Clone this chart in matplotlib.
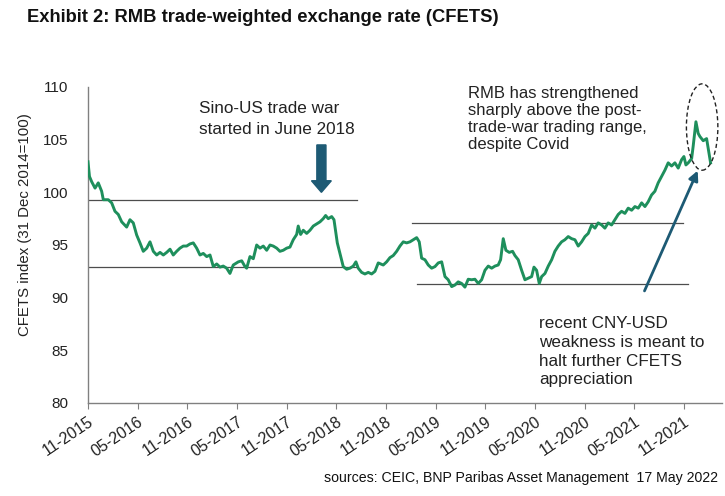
import matplotlib
matplotlib.use("Agg")
import matplotlib.pyplot as plt
from matplotlib.patches import Ellipse, FancyArrow

plt.rcParams["font.family"] = ["Liberation Sans", "DejaVu Sans"]

# months since Nov 2015
months = [0, 0.18, 0.45, 0.85, 1.24, 1.65, 1.85, 2.45, 2.86, 3.26, 3.66, 4.07, 4.67, 5.07, 5.47, 5.88,
          6.28, 6.68, 7.09, 7.49, 7.89, 8.30, 8.70, 9.10, 9.51, 9.91, 10.30, 10.71, 11.11, 11.51, 11.92,
          12.32, 12.72, 13.13, 13.53, 13.93, 14.34, 14.74, 15.14, 15.55, 15.95, 16.34, 16.75, 17.15,
          17.55, 18.16, 18.57, 18.97, 19.17, 19.57, 19.97, 20.38, 20.78, 21.18, 21.59, 21.99, 22.38,
          22.80, 23.19, 23.59, 24.00, 24.40, 24.80, 25.21, 25.40, 25.69, 26.01, 26.42, 26.82, 27.22,
          27.63, 28.03, 28.42, 28.71, 29.03, 29.44, 29.72, 29.96, 30.12, 30.44, 30.84, 31.25, 31.65,
          32.05, 32.37, 32.65, 33.06, 33.46, 33.86, 34.27, 34.67, 35.07, 35.67, 36.08, 36.48, 36.88,
          37.29, 37.69, 38.09, 38.50, 38.90, 39.30, 39.71, 40.02, 40.31, 40.71, 41.11, 41.52, 41.92,
          42.32, 42.73, 43.13, 43.52, 43.94, 44.33, 44.73, 45.14, 45.54, 45.94, 46.35, 46.75, 47.15,
          47.56, 47.96, 48.36, 48.77, 49.17, 49.56, 49.85, 50.17, 50.49, 50.89, 51.30, 51.58, 51.98,
          52.39, 52.79, 53.19, 53.60, 53.88, 54.20, 54.52, 54.81, 55.21, 55.61, 56.02, 56.41, 56.81,
          57.22, 57.62, 58.02, 58.43, 58.83, 59.23, 59.64, 60.04, 60.44, 60.85, 61.25, 61.64, 62.06,
          62.45, 62.85, 63.26, 63.66, 64.06, 64.47, 64.87, 65.27, 65.68, 66.08, 66.48, 66.89, 67.29,
          67.68, 68.09, 68.49, 68.89, 69.30, 69.70, 70.10, 70.51, 70.91, 71.31, 71.72, 72.00, 72.24,
          72.52, 72.93, 73.12, 73.45, 73.72, 73.93, 74.33, 74.74, 74.93, 75.22]

cfets = [102.9, 101.5, 101.0, 100.4, 100.9, 100.1, 99.3, 99.3, 99.0, 98.2, 97.9, 97.2, 96.7, 97.4, 97.1, 95.95,
         95.2, 94.4, 94.7, 95.3, 94.4, 94.05, 94.3, 94.05, 94.3, 94.6, 94.05, 94.4, 94.7, 94.9, 94.9,
         95.1, 95.2, 94.7, 94.05, 94.2, 93.9, 94.05, 92.95, 93.2, 92.9, 93.0, 92.8, 92.3,
         93.1, 93.4, 93.5, 92.95, 92.8, 93.9, 93.7, 95.0, 94.7, 94.9, 94.5, 95.0, 94.9,
         94.7, 94.4, 94.5, 94.7, 94.8, 95.5, 96.0, 96.8, 96.0, 96.4, 96.1, 96.4, 96.8,
         97.0, 97.2, 97.5, 97.8, 97.5, 97.7, 97.4, 96.1, 95.2, 94.2, 92.95, 92.7, 92.8,
         93.0, 93.4, 92.8, 92.4, 92.25, 92.4, 92.25, 92.5, 93.3, 93.1, 93.4, 93.8, 94.0,
         94.4, 94.9, 95.3, 95.2, 95.3, 95.5, 95.7, 95.3, 93.75, 93.6, 93.1, 92.8, 92.95,
         93.3, 93.4, 92.0, 91.7, 91.05, 91.2, 91.5, 91.35, 91.0, 91.75, 91.7, 91.75, 91.35,
         91.7, 92.6, 93.0, 92.8, 93.0, 93.1, 93.6, 95.6, 94.5, 94.3, 94.4, 94.0, 93.6,
         92.6, 91.7, 91.85, 92.0, 92.9, 92.6, 91.35, 92.0, 92.3, 93.0, 93.6, 94.4, 94.9,
         95.3, 95.5, 95.8, 95.6, 95.5, 94.9, 95.3, 95.8, 96.1, 96.9, 96.6, 97.1, 96.9,
         96.6, 97.1, 96.9, 97.4, 97.9, 98.2, 98.0, 98.5, 98.3, 98.65, 98.5, 99.0, 98.65,
         99.1, 99.75, 100.1, 100.9, 101.5, 102.1, 102.8, 102.5, 102.8, 102.3, 103.1, 103.4, 102.6,
         102.8, 103.2, 104.4, 106.7, 105.6, 105.3, 104.9, 105.1, 104.2, 102.8]

tick_pos = [0, 6, 12, 18, 24, 30, 36, 42, 48, 54, 60, 66, 72]
tick_labels = ["11-2015", "05-2016", "11-2016", "05-2017", "11-2017", "05-2018", "11-2018",
               "05-2019", "11-2019", "05-2020", "11-2020", "05-2021", "11-2021"]
y_ticks = [80, 85, 90, 95, 100, 105, 110]

# trading-range reference lines: (x_start, x_end, level)
range_lines = [(0, 32.5, 99.3), (0, 32.5, 92.9), (39.1, 71.9, 97.1), (39.7, 72.5, 91.3)]

fig = plt.figure(figsize=(7.25, 4.96), dpi=100)
ax = fig.add_axes([88/725, 1-403/496, (722-88)/725, (403-87)/496])

for x0, x1, lvl in range_lines:
    ax.plot([x0, x1], [lvl, lvl], color="#4d4d4d", lw=0.9, zorder=1)

ax.plot(months, cfets, color="#1e8f5c", lw=2.1, zorder=3)

ax.set_xlim(0, 76.6)
ax.set_ylim(80, 110)
ax.set_xticks(tick_pos)
ax.set_xticklabels(tick_labels, rotation=34, ha="right", rotation_mode="anchor")
ax.set_yticks(y_ticks)
for s in ["top", "right"]:
    ax.spines[s].set_visible(False)
for s in ["left", "bottom"]:
    ax.spines[s].set_color("#808080")
    ax.spines[s].set_linewidth(1.0)
ax.tick_params(axis="y", length=0, pad=14, labelsize=11, colors="#222222")
ax.tick_params(axis="x", length=4, width=0.8, color="#808080", pad=4, labelsize=11.5, labelcolor="#222222")

fig.text(25/725, 1-225/496, "CFETS index (31 Dec 2014=100)", rotation=90, ha="center", va="center",
         fontsize=10.8, color="#222222")
fig.text(27/725, 1-18/496, "Exhibit 2: RMB trade-weighted exchange rate (CFETS)", ha="left", va="center",
         fontsize=13.2, fontweight="bold", color="#111111")
fig.text(718/725, 1-478/496, "sources: CEIC, BNP Paribas Asset Management  17 May 2022", ha="right",
         va="center", fontsize=10.2, color="#111111")

ax.text(13.4, 108.7, "Sino-US trade war\nstarted in June 2018", ha="left", va="top", fontsize=12.3,
        linespacing=1.49, color="#222222")
ax.text(45.9, 110.1, "RMB has strengthened\nsharply above the post-\ntrade-war trading range,\ndespite Covid",
        ha="left", va="top", fontsize=12.0, linespacing=1.17, color="#222222")
ax.text(54.5, 84.85, "recent CNY-USD\nweakness is meant to\nhalt further CFETS\nappreciation",
        ha="left", va="center", fontsize=12.3, linespacing=1.31, color="#222222")

arrow_col = "#1d5a74"
ax.add_patch(FancyArrow(28.2, 104.5, 0, -4.5, width=1.1, head_width=2.4, head_length=1.1,
                        length_includes_head=True, color=arrow_col, zorder=4))
ax.annotate("", xy=(73.8, 102.3), xytext=(67.1, 90.4),
            arrowprops=dict(arrowstyle="-|>", color=arrow_col, lw=2.0, mutation_scale=14), zorder=4)
ax.add_patch(Ellipse((74.2, 106.2), 3.8, 8.2, fill=False, ls=(0, (3, 2)), lw=1.0, color="#222222",
                     clip_on=False, zorder=5))

fig.savefig("out.png", dpi=100)
